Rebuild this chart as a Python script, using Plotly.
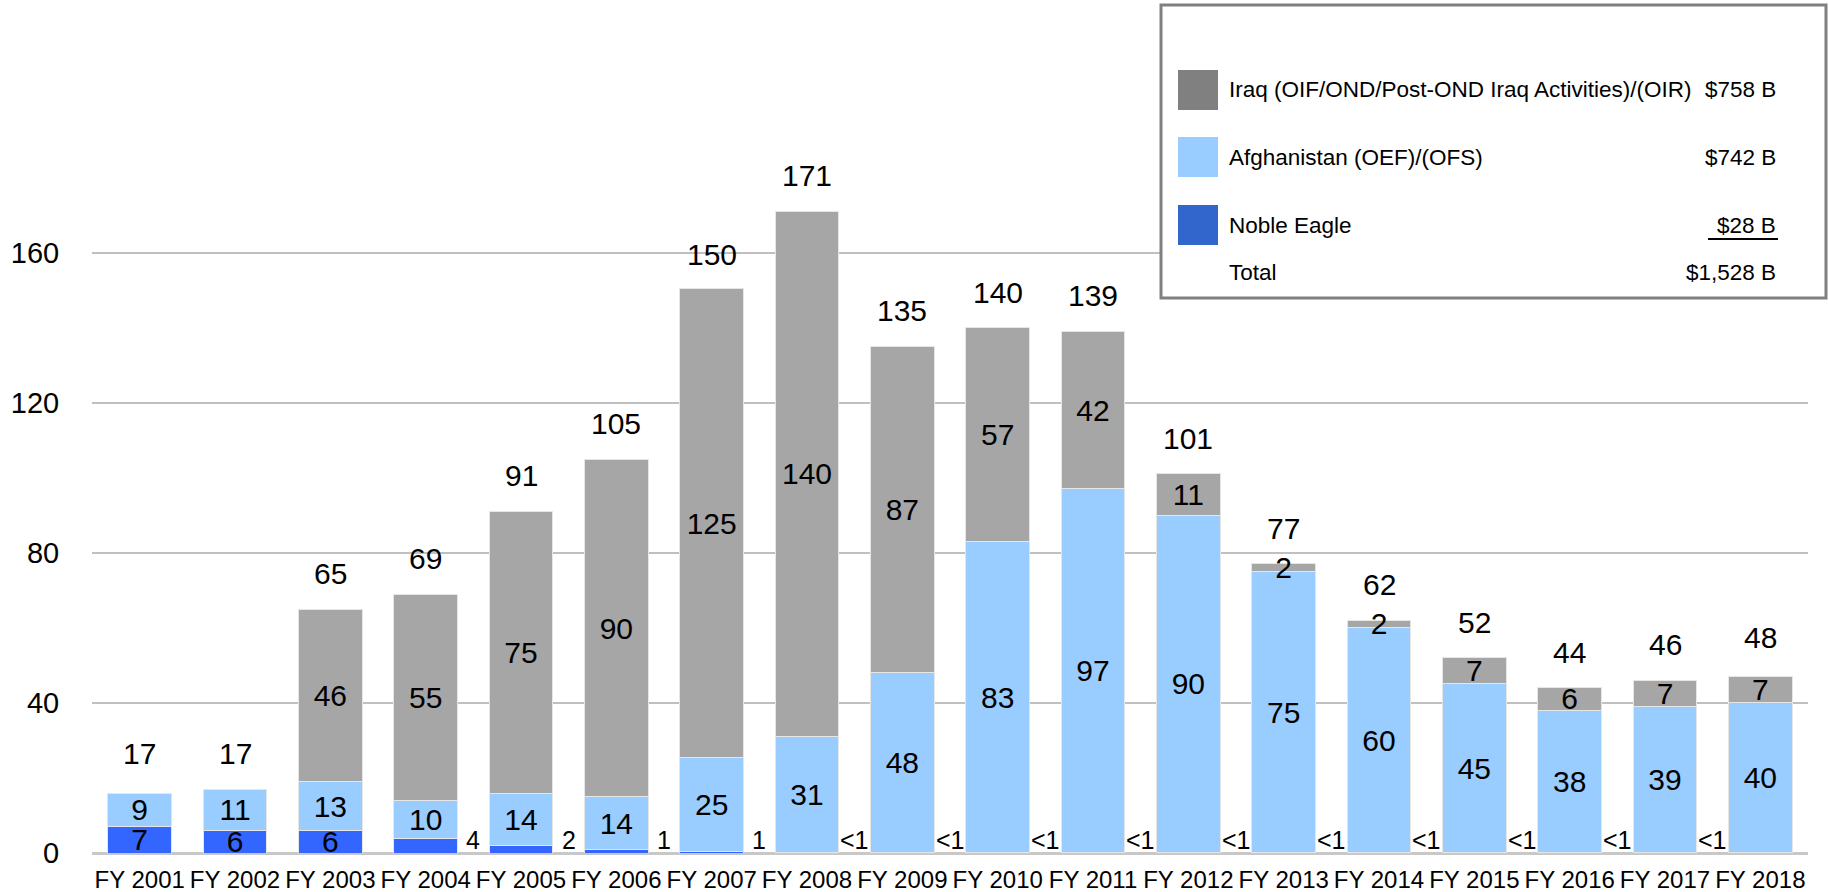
import plotly.graph_objects as go

# ---------------- data ----------------
years = ["FY 2001", "FY 2002", "FY 2003", "FY 2004", "FY 2005", "FY 2006", "FY 2007",
         "FY 2008", "FY 2009", "FY 2010", "FY 2011", "FY 2012", "FY 2013", "FY 2014",
         "FY 2015", "FY 2016", "FY 2017", "FY 2018"]
noble_eagle = [7, 6, 6, 4, 2, 1, 0.5, 0.1, 0.1, 0.1, 0.1, 0.1, 0.1, 0.1, 0.1, 0.1, 0.1, 0.1]
noble_inside_labels = ["7", "6", "6", "", "", "", "", "", "", "", "", "", "", "", "", "", "", ""]
noble_side_labels = ["", "", "", "4", "2", "1", "1", "<1", "<1", "<1", "<1", "<1", "<1",
                     "<1", "<1", "<1", "<1", ""]
afghanistan = [9, 11, 13, 10, 14, 14, 25, 31, 48, 83, 97, 90, 75, 60, 45, 38, 39, 40]
iraq = [0, 0, 46, 55, 75, 90, 125, 140, 87, 57, 42, 11, 2, 2, 7, 6, 7, 7]
totals = [17, 17, 65, 69, 91, 105, 150, 171, 135, 140, 139, 101, 77, 62, 52, 44, 46, 48]
y_ticks = [0, 40, 80, 120, 160]

legend_names = ["Iraq (OIF/OND/Post-OND Iraq Activities)/(OIR)", "Afghanistan (OEF)/(OFS)",
                "Noble Eagle", "Total"]
legend_amounts = ["$758 B", "$742 B", "$28 B", "$1,528 B"]

# ---------------- styles ----------------
W, H = 1829, 892
C_IRAQ, C_AFG, C_NE = "#A6A6A6", "#99CCFF", "#3366FF"
LEG_SWATCH = ["#808080", "#99CCFF", "#3366CC", None]
ARIAL = "Liberation Sans, Arial, sans-serif"
VAL_FONT = dict(family=ARIAL, size=30, color="black")
LEG_FONT = dict(family=ARIAL, size=22.5, color="black")

edge = dict(color="#E6E6E6", width=1)

fig = go.Figure()
fig.add_trace(go.Bar(x=years, y=noble_eagle, name="Noble Eagle", marker=dict(color=C_NE, line=edge),
                     text=noble_inside_labels, textposition="inside", insidetextanchor="middle",
                     constraintext="none", textfont=VAL_FONT, textangle=0))
fig.add_trace(go.Bar(x=years, y=afghanistan, name="Afghanistan", marker=dict(color=C_AFG, line=edge),
                     text=[str(v) for v in afghanistan], textposition="inside",
                     insidetextanchor="middle", constraintext="none", textfont=VAL_FONT, textangle=0))
fig.add_trace(go.Bar(x=years, y=iraq, name="Iraq", marker=dict(color=C_IRAQ, line=edge),
                     text=[str(v) if v > 0 else "" for v in iraq], textposition="inside",
                     insidetextanchor="middle", constraintext="none", textfont=VAL_FONT, textangle=0))

annotations = []
# total labels above each bar
for i, t in enumerate(totals):
    annotations.append(dict(x=i, y=t, xref="x", yref="y", text=str(t), showarrow=False,
                            yanchor="middle", yshift=36, font=VAL_FONT))
# small Noble Eagle labels placed in the gap beside the bar
for i, lab in enumerate(noble_side_labels):
    if lab:
        annotations.append(dict(x=i + 0.5, y=0, xref="x", yref="y", text=lab, showarrow=False,
                                yanchor="middle", yshift=13,
                                font=dict(family=ARIAL, size=25, color="black")))

# custom legend box
def px(x):
    return x / W

def py(y):
    return 1 - y / H

shapes = [dict(type="rect", xref="paper", yref="paper", x0=px(1161), x1=px(1826),
               y0=py(298), y1=py(5), line=dict(color="#808080", width=3),
               fillcolor="white", layer="above")]
row_y = [90, 157, 225, 272]
for k, name in enumerate(legend_names):
    yc = row_y[k]
    if LEG_SWATCH[k]:
        shapes.append(dict(type="rect", xref="paper", yref="paper", x0=px(1178), x1=px(1218),
                           y0=py(yc + 20), y1=py(yc - 20), line=dict(width=0),
                           fillcolor=LEG_SWATCH[k], layer="above"))
    annotations.append(dict(x=px(1227), y=py(yc), xref="paper", yref="paper", text=name,
                            showarrow=False, xanchor="left", yanchor="middle", font=LEG_FONT))
    annotations.append(dict(x=px(1778), y=py(yc), xref="paper", yref="paper",
                            text=legend_amounts[k], showarrow=False, xanchor="right",
                            yanchor="middle", font=LEG_FONT))
# underline under Noble Eagle amount
shapes.append(dict(type="line", xref="paper", yref="paper", x0=px(1708), x1=px(1778),
                   y0=py(239), y1=py(239), line=dict(color="black", width=2), layer="above"))

fig.update_layout(
    width=W, height=H, barmode="stack", bargap=0.335,
    paper_bgcolor="white", plot_bgcolor="white",
    margin=dict(l=0, r=0, t=0, b=0, autoexpand=False),
    showlegend=False,
    annotations=annotations, shapes=shapes,
    xaxis=dict(domain=[92 / W, 1808 / W], type="category", showgrid=False, showline=False,
               ticks="outside", ticklen=5, tickcolor="rgba(0,0,0,0)",
               tickfont=dict(family=ARIAL, size=24, color="black"), automargin=False,
               tickangle=0),
    yaxis=dict(domain=[(H - 853) / H, 1], range=[0, 853 / 3.75], tickvals=y_ticks,
               showgrid=True, gridcolor="#C0C0C0", gridwidth=2,
               zeroline=True, zerolinecolor="#C8C8C8", zerolinewidth=3, showline=False,
               ticks="outside", ticklen=26, tickcolor="rgba(0,0,0,0)",
               tickfont=dict(family=ARIAL, size=29, color="black"), automargin=False),
)

fig.write_html("out.html", config={"displayModeBar": False},
               post_script="document.body.style.margin='0';document.body.style.overflow='hidden';")
